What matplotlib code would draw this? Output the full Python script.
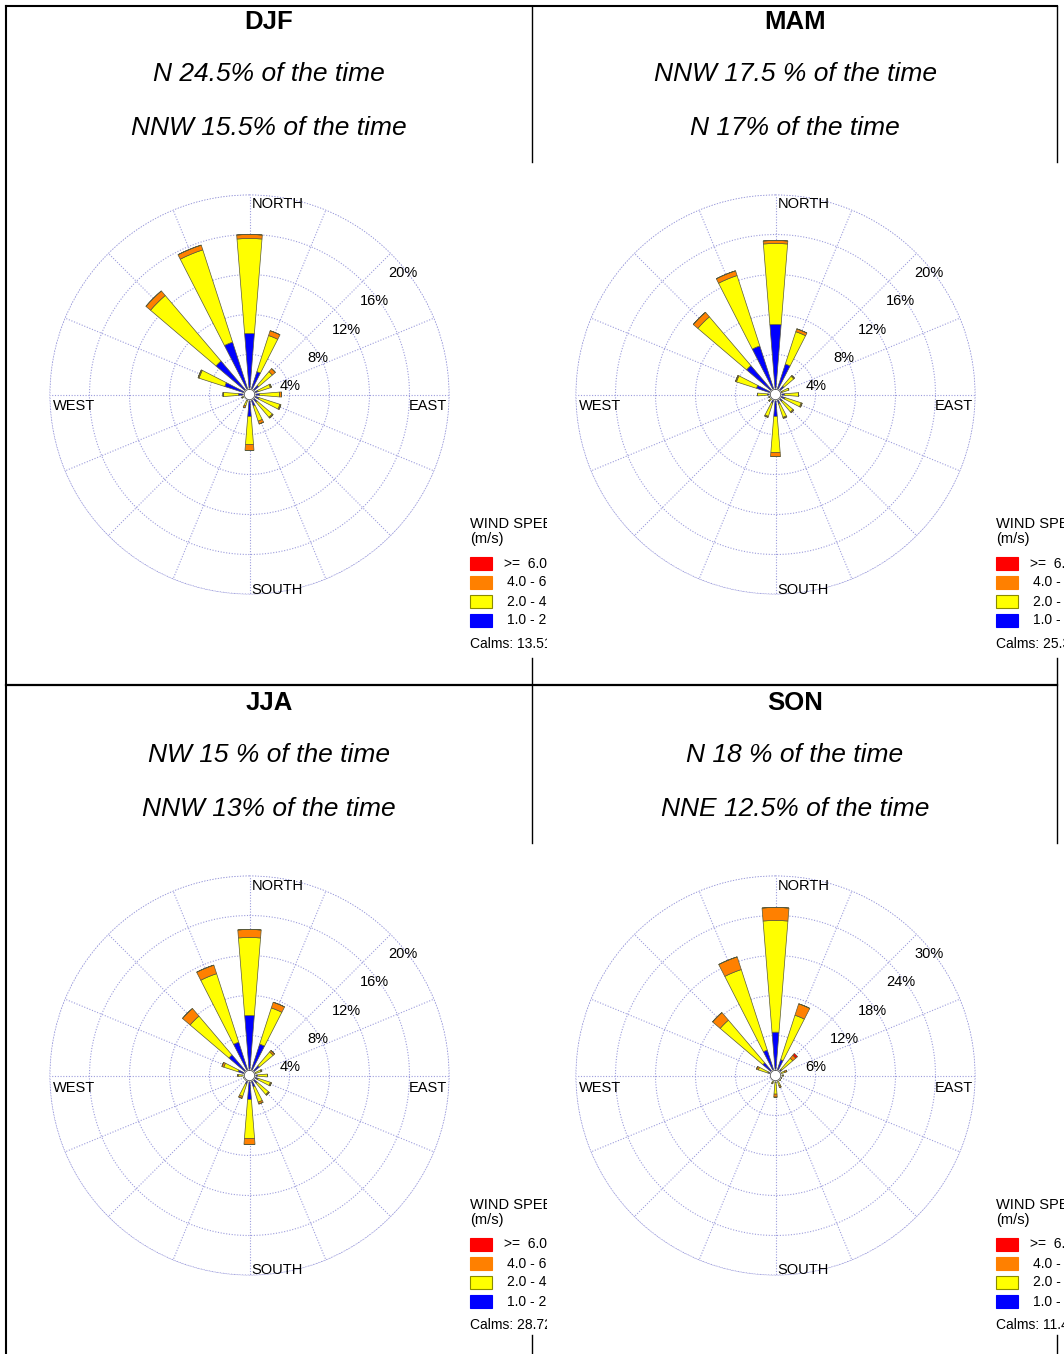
import numpy as np
import matplotlib
matplotlib.use("Agg")
import matplotlib.pyplot as plt
from matplotlib.lines import Line2D
from matplotlib.patches import Rectangle

plt.rcParams['font.family'] = ['Liberation Sans', 'DejaVu Sans']

W, H = 1064, 1354

# direcciones (N, NNE, ... NNW) en grados
directions = ['N', 'NNE', 'NE', 'ENE', 'E', 'ESE', 'SE', 'SSE',
              'S', 'SSW', 'SW', 'WSW', 'W', 'WNW', 'NW', 'NNW']
angles = np.arange(16) * 22.5

# frecuencias (%) por clase de velocidad: 1-2, 2-4, 4-6, >=6 m/s
djf_blue   = [6.1, 2.4, 1.2, 0.9, 1.0, 1.0, 1.0, 1.2, 2.2, 0.6, 0.3, 0.4, 1.1, 2.6, 4.4, 5.5]
djf_yellow = [9.5, 3.8, 1.8, 1.3, 2.0, 2.2, 2.0, 1.6, 2.8, 0.6, 0.2, 0.4, 1.5, 2.7, 8.6, 9.7]
djf_orange = [0.4, 0.5, 0.4, 0.1, 0.2, 0.1, 0.1, 0.3, 0.6, 0.2, 0.0, 0.0, 0.05, 0.1, 0.6, 0.5]
djf_red    = [0.0] * 16

mam_blue   = [7.0, 3.2, 1.1, 0.7, 0.9, 1.0, 0.9, 1.0, 2.2, 0.9, 0.4, 0.3, 0.8, 2.0, 3.8, 5.1]
mam_yellow = [8.1, 3.4, 1.3, 0.7, 1.4, 1.7, 1.4, 1.4, 3.6, 1.4, 0.5, 0.4, 1.0, 2.1, 6.4, 7.4]
mam_orange = [0.3, 0.3, 0.1, 0.0, 0.0, 0.1, 0.1, 0.1, 0.4, 0.1, 0.0, 0.0, 0.0, 0.1, 0.6, 0.5]
mam_red    = [0.0] * 16

jja_blue   = [6.0, 3.3, 1.3, 0.6, 0.8, 0.9, 1.0, 1.2, 2.4, 0.9, 0.3, 0.3, 0.5, 1.2, 2.7, 3.5]
jja_yellow = [7.8, 3.8, 1.8, 0.6, 1.0, 1.3, 1.5, 1.6, 3.9, 1.3, 0.3, 0.3, 0.6, 1.5, 5.1, 7.2]
jja_orange = [0.8, 0.6, 0.2, 0.1, 0.0, 0.1, 0.1, 0.2, 0.6, 0.2, 0.0, 0.0, 0.1, 0.2, 1.0, 0.9]
jja_red    = [0.0] * 16

son_blue   = [6.5, 2.5, 1.2, 0.6, 0.5, 0.4, 0.4, 0.7, 1.0, 0.5, 0.2, 0.2, 0.3, 1.2, 2.5, 4.0]
son_yellow = [16.75, 7.0, 2.2, 0.9, 0.6, 0.5, 0.5, 0.9, 1.8, 0.7, 0.2, 0.2, 0.4, 1.5, 8.4, 12.7]
son_orange = [1.95, 1.8, 0.6, 0.3, 0.1, 0.1, 0.1, 0.3, 0.45, 0.1, 0.0, 0.0, 0.0, 0.3, 1.5, 2.0]
son_red    = [0.0, 0.0, 0.35, 0.0, 0.0, 0.0, 0.0, 0.0, 0.0, 0.0, 0.0, 0.0, 0.0, 0.0, 0.0, 0.0]

seasons = ['DJF', 'MAM', 'JJA', 'SON']
line1 = ['N 24.5% of the time', 'NNW 17.5 % of the time', 'NW 15 % of the time', 'N 18 % of the time']
line2 = ['NNW 15.5% of the time', 'N 17% of the time', 'NNW 13% of the time', 'NNE 12.5% of the time']
calms = ['Calms: 13.51%', 'Calms: 25.37%', 'Calms: 28.72%', 'Calms: 11.46%']
ring_ticks = [[4, 8, 12, 16, 20], [4, 8, 12, 16, 20], [4, 8, 12, 16, 20], [6, 12, 18, 24, 30]]
class_labels = ['>=  6.0', '4.0 - 6.0', '2.0 - 4.0', '1.0 - 2.0']
class_colors = ['#ff0000', '#ff8000', '#ffff00', '#0000ff']

data = {
    'DJF': (djf_blue, djf_yellow, djf_orange, djf_red),
    'MAM': (mam_blue, mam_yellow, mam_orange, mam_red),
    'JJA': (jja_blue, jja_yellow, jja_orange, jja_red),
    'SON': (son_blue, son_yellow, son_orange, son_red),
}

fig = plt.figure(figsize=(W / 100, H / 100), dpi=100)


def fx(x):
    return x / W


def fy(y):
    return 1 - y / H


def hline(y, x0, x1, lw):
    fig.add_artist(Line2D([fx(x0), fx(x1)], [fy(y), fy(y)], color='black', lw=lw))


def vline(x, y0, y1, lw):
    fig.add_artist(Line2D([fx(x), fx(x)], [fy(y0), fy(y1)], color='black', lw=lw))


# bordes de la tabla
hline(6, 6, 1057, 1.5)
hline(685, 6, 1057, 1.6)
vline(6, 6, 1354, 1.5)
for x in (532, 1057):
    vline(x, 6, 162, 1.0)
    vline(x, 658, 843, 1.0)
    vline(x, 1335, 1354, 1.0)

grid_col = '#9c9cdc'
dots = (0, (1, 1.5))
R = 200
for i, s in enumerate(seasons):
    col, row = i % 2, i // 2
    dx, dy = col * 526, row * 681
    tx = 269 + col * 526

    # textos de la celda
    fig.text(fx(tx), fy(22 + dy), s, ha='center', va='center', fontsize=18.5, fontweight='bold')
    fig.text(fx(tx), fy(74 + dy), line1[i], ha='center', va='center', fontsize=19, style='italic')
    fig.text(fx(tx), fy(128 + dy), line2[i], ha='center', va='center', fontsize=19, style='italic')

    cx, cy = 249.5 + dx, 394.5 + dy
    ax = fig.add_axes([fx(cx - R), fy(cy + R), 2 * R / W, 2 * R / H], projection='polar')
    ax.set_theta_zero_location('N')
    ax.set_theta_direction(-1)
    rmax = ring_ticks[i][-1]
    ax.set_ylim(0, rmax)
    ax.set_rticks(ring_ticks[i])
    ax.set_yticklabels([])
    ax.set_xticks(np.deg2rad(angles))
    ax.set_xticklabels([])
    ax.tick_params(length=0)
    ax.grid(color=grid_col, linestyle=dots, linewidth=0.8)
    ax.spines['polar'].set_visible(False)
    ax.set_axisbelow(True)

    tt = np.linspace(0, 2 * np.pi, 361)
    ax.plot(tt, np.full(361, rmax * 0.998), color=grid_col, lw=0.8, linestyle=dots, zorder=1)

    blue, yellow, orange, red = data[s]
    theta = np.deg2rad(angles)
    width = np.deg2rad(9.2)
    bottom = np.zeros(16)
    for vals, c in zip((blue, yellow, orange, red), ('#0000ff', '#ffff00', '#ff8000', '#ff0000')):
        vals = np.array(vals)
        ax.bar(theta, vals, width=width, bottom=bottom, color=c,
               edgecolor='#5a5a3a', linewidth=0.5, zorder=3)
        bottom = bottom + vals

    # circulo de calmas
    r0 = rmax * 0.026
    ax.fill(tt, np.full(361, r0), color='white', zorder=4)
    ax.plot(tt, np.full(361, r0), color='#555555', lw=0.6, zorder=5)

    for r in ring_ticks[i]:
        ax.annotate(f'{r}%', xy=(np.deg2rad(45), r), xytext=(12, -20),
                    textcoords='offset pixels', ha='center', va='center', fontsize=10.5)

    fig.text(fx(cx + 2), fy(cy - 190), 'NORTH', ha='left', va='center', fontsize=10.5)
    fig.text(fx(cx + 2), fy(cy + 195), 'SOUTH', ha='left', va='center', fontsize=10.5)
    fig.text(fx(cx - 197), fy(cy + 12), 'WEST', ha='left', va='center', fontsize=10.5)
    fig.text(fx(cx + 198), fy(cy + 12), 'EAST', ha='right', va='center', fontsize=10.5)

    # leyenda recortada por el borde de la imagen
    lx0, lx1 = 468 + dx, 547 + dx
    ly0, ly1 = 512 + dy, 656 + dy
    lax = fig.add_axes([fx(lx0), fy(ly1), (lx1 - lx0) / W, (ly1 - ly0) / H])
    lax.set_xlim(0, lx1 - lx0)
    lax.set_ylim(ly1 - ly0, 0)
    lax.axis('off')
    lax.text(2, 12, 'WIND SPEED', fontsize=10.5, va='center', clip_on=True)
    lax.text(2, 27, '(m/s)', fontsize=10.5, va='center', clip_on=True)
    for k, (lab, c) in enumerate(zip(class_labels, class_colors)):
        yb = 45 + k * 19
        ec = '#8a8a00' if c == '#ffff00' else c
        lax.add_patch(Rectangle((2, yb), 22, 13, facecolor=c, edgecolor=ec, lw=0.8))
        lax.text(36 if k == 0 else 39, yb + 6.5, lab, fontsize=10, va='center', clip_on=True)
    lax.text(2, 132, calms[i], fontsize=10, va='center', clip_on=True)

fig.savefig('out.png', dpi=100, facecolor='white')
